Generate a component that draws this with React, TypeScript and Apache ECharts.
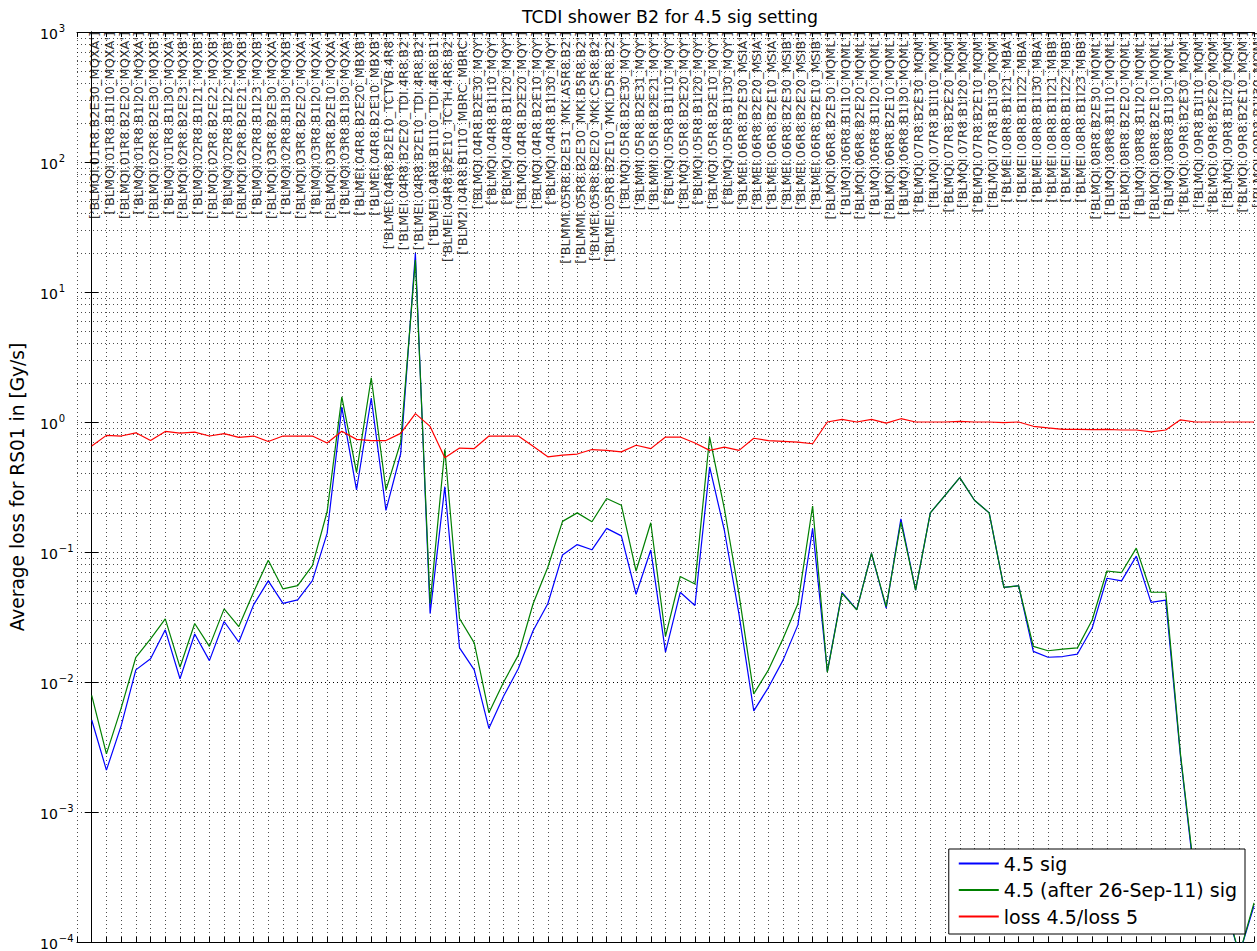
import React, { useEffect, useRef } from "react";
import * as echarts from "echarts";

const categories: string[] = [
  "['BLMQI.01R8.B2E30_MQXA']",
  "['BLMQI.01R8.B1I10_MQXA']",
  "['BLMQI.01R8.B2E20_MQXA']",
  "['BLMQI.01R8.B1I20_MQXA']",
  "['BLMQI.02R8.B2E30_MQXB']",
  "['BLMQI.01R8.B1I30_MQXA']",
  "['BLMQI.02R8.B2E23_MQXB']",
  "['BLMQI.02R8.B1I21_MQXB']",
  "['BLMQI.02R8.B2E22_MQXB']",
  "['BLMQI.02R8.B1I22_MQXB']",
  "['BLMQI.02R8.B2E21_MQXB']",
  "['BLMQI.02R8.B1I23_MQXB']",
  "['BLMQI.03R8.B2E30_MQXA']",
  "['BLMQI.02R8.B1I30_MQXB']",
  "['BLMQI.03R8.B2E20_MQXA']",
  "['BLMQI.03R8.B1I20_MQXA']",
  "['BLMQI.03R8.B2E10_MQXA']",
  "['BLMQI.03R8.B1I30_MQXA']",
  "['BLMEI.04R8.B2E20_MBXB']",
  "['BLMEI.04R8.B2E10_MBXB']",
  "['BLMEI.04R8.B2E10_TCTVB.4R8']",
  "['BLMEI.04R8.B2E20_TDI.4R8.B2']",
  "['BLMEI.04R8.B2E10_TDI.4R8.B2']",
  "['BLMEI.04R8.B1I10_TDI.4R8.B1']",
  "['BLMEI.04R8.B2E10_TCTH.4R8.B2']",
  "['BLM2I.04R8.B1I10_MBRC_MBRC']",
  "['BLMQI.04R8.B2E30_MQY']",
  "['BLMQI.04R8.B1I10_MQY']",
  "['BLMQI.04R8.B1I20_MQY']",
  "['BLMQI.04R8.B2E20_MQY']",
  "['BLMQI.04R8.B2E10_MQY']",
  "['BLMQI.04R8.B1I30_MQY']",
  "['BLMMI.05R8.B2E31_MKI.A5R8.B2']",
  "['BLMMI.05R8.B2E30_MKI.B5R8.B2']",
  "['BLMEI.05R8.B2E20_MKI.C5R8.B2']",
  "['BLMEI.05R8.B2E10_MKI.D5R8.B2']",
  "['BLMQI.05R8.B2E30_MQY']",
  "['BLMMI.05R8.B2E31_MQY']",
  "['BLMMI.05R8.B2E21_MQY']",
  "['BLMQI.05R8.B1I10_MQY']",
  "['BLMQI.05R8.B2E20_MQY']",
  "['BLMQI.05R8.B1I20_MQY']",
  "['BLMQI.05R8.B2E10_MQY']",
  "['BLMQI.05R8.B1I30_MQY']",
  "['BLMEI.06R8.B2E30_MSIA']",
  "['BLMEI.06R8.B2E20_MSIA']",
  "['BLMEI.06R8.B2E10_MSIA']",
  "['BLMEI.06R8.B2E30_MSIB']",
  "['BLMEI.06R8.B2E20_MSIB']",
  "['BLMEI.06R8.B2E10_MSIB']",
  "['BLMQI.06R8.B2E30_MQML']",
  "['BLMQI.06R8.B1I10_MQML']",
  "['BLMQI.06R8.B2E20_MQML']",
  "['BLMQI.06R8.B1I20_MQML']",
  "['BLMQI.06R8.B2E10_MQML']",
  "['BLMQI.06R8.B1I30_MQML']",
  "['BLMQI.07R8.B2E30_MQM']",
  "['BLMQI.07R8.B1I10_MQM']",
  "['BLMQI.07R8.B2E20_MQM']",
  "['BLMQI.07R8.B1I20_MQM']",
  "['BLMQI.07R8.B2E10_MQM']",
  "['BLMQI.07R8.B1I30_MQM']",
  "['BLMEI.08R8.B1I21_MBA']",
  "['BLMEI.08R8.B1I22_MBA']",
  "['BLMEI.08R8.B1I30_MBA']",
  "['BLMEI.08R8.B1I21_MBB']",
  "['BLMEI.08R8.B1I22_MBB']",
  "['BLMEI.08R8.B1I23_MBB']",
  "['BLMQI.08R8.B2E30_MQML']",
  "['BLMQI.08R8.B1I10_MQML']",
  "['BLMQI.08R8.B2E20_MQML']",
  "['BLMQI.08R8.B1I20_MQML']",
  "['BLMQI.08R8.B2E10_MQML']",
  "['BLMQI.08R8.B1I30_MQML']",
  "['BLMQI.09R8.B2E30_MQM']",
  "['BLMQI.09R8.B1I10_MQM']",
  "['BLMQI.09R8.B2E20_MQM']",
  "['BLMQI.09R8.B1I20_MQM']",
  "['BLMQI.09R8.B2E10_MQM']",
  "['BLMQI.09R8.B1I30_MQM']",
];

const sig45: number[] = [
  0.0051, 0.0021, 0.0046, 0.0124, 0.0151, 0.0252, 0.0106, 0.0234, 0.0146, 0.0292,
  0.0203, 0.0392, 0.0599, 0.0402, 0.0428, 0.0603, 0.139, 1.3, 0.3, 1.53,
  0.209, 0.57, 19.9, 0.0336, 0.318, 0.0183, 0.0124, 0.0044, 0.0078, 0.0127,
  0.0248, 0.04, 0.095, 0.114, 0.104, 0.152, 0.133, 0.0473, 0.1035, 0.017,
  0.049, 0.0388, 0.451, 0.147, 0.033, 0.006, 0.0091, 0.0148, 0.0275, 0.152,
  0.012, 0.049, 0.036, 0.0975, 0.037, 0.18, 0.051, 0.2, 0.273, 0.373,
  0.25, 0.2, 0.0535, 0.055, 0.0172, 0.0155, 0.0157, 0.0164, 0.026, 0.0628,
  0.06, 0.093, 0.041, 0.0426, 0.0027, 0.00028, 0.00024, 0.0002, 0.00008, 0.00019,
];

const sigAfter: number[] = [
  0.0079, 0.0028, 0.0063, 0.0155, 0.0215, 0.0306, 0.013, 0.0282, 0.0188, 0.0365,
  0.0267, 0.049, 0.0863, 0.052, 0.0551, 0.0785, 0.204, 1.56, 0.41, 2.19,
  0.3, 0.7, 17.6, 0.04, 0.617, 0.0308, 0.02, 0.0058, 0.01, 0.0161,
  0.04, 0.0764, 0.172, 0.2, 0.171, 0.258, 0.229, 0.0714, 0.168, 0.0224,
  0.0648, 0.0568, 0.766, 0.216, 0.047, 0.0081, 0.0124, 0.0217, 0.04, 0.226,
  0.0119, 0.048, 0.0359, 0.0975, 0.038, 0.17, 0.051, 0.2, 0.273, 0.373,
  0.25, 0.2, 0.0535, 0.055, 0.0188, 0.0174, 0.0179, 0.0183, 0.03, 0.0714,
  0.0695, 0.107, 0.049, 0.049, 0.0028, 0.0003, 0.00025, 0.00021, 0.00008, 0.0002,
];

const ratio: number[] = [
  0.653, 0.789, 0.78, 0.826, 0.721, 0.846, 0.82, 0.836, 0.78, 0.814,
  0.762, 0.78, 0.708, 0.78, 0.78, 0.78, 0.69, 0.85, 0.735, 0.718,
  0.72, 0.818, 1.16, 0.925, 0.53, 0.63, 0.625, 0.78, 0.78, 0.78,
  0.65, 0.54, 0.557, 0.567, 0.614, 0.605, 0.589, 0.662, 0.624, 0.766,
  0.766, 0.69, 0.605, 0.64, 0.605, 0.75, 0.72, 0.71, 0.7, 0.68,
  1.0, 1.047, 1.0, 1.047, 0.98, 1.06, 1.0, 1.0, 1.0, 1.01,
  1.0, 1.0, 0.99, 1.0, 0.927, 0.9, 0.877, 0.877, 0.875, 0.877,
  0.868, 0.868, 0.84, 0.868, 1.04, 1.0, 1.0, 1.0, 1.0, 1.0,
];

const seriesNames = ["4.5 sig", "4.5 (after 26-Sep-11) sig", "loss 4.5/loss 5"];
const titleText = "TCDI shower B2 for 4.5 sig setting";
const yAxisTitle = "Average loss for RS01 in [Gy/s]";
const yMin = 1e-4;
const yMax = 1e3;
const minorExponents = [-4, -3, -2, -1, 0, 1, 2];
const minorMultipliers = [2, 3, 4, 5, 6, 7, 8, 9];

const FONT = "DejaVu Sans";
const dotted = { type: [1, 3] as number[], color: "#000", width: 0.7 };

function buildOption() {
  const minorVals: number[] = [];
  minorExponents.forEach((e) =>
    minorMultipliers.forEach((m) => minorVals.push(m * Math.pow(10, e)))
  );
  const expLabel = (v: number) => {
    const e = Math.round(Math.log10(v));
    return "{b|10}{s|" + (e < 0 ? "\u2212" + -e : String(e)) + "}";
  };
  const yRich = {
    b: { fontSize: 14, fontFamily: FONT, color: "#000", verticalAlign: "bottom", lineHeight: 18 },
    s: { fontSize: 10, fontFamily: FONT, color: "#000", verticalAlign: "top", lineHeight: 18, padding: [0, 0, 6, 1] },
  };
  const nCat = categories.length;
  const xCommon = {
    type: "value",
    min: -1,
    max: nCat - 1,
    interval: 1,
    axisLine: { show: true, lineStyle: { color: "#000", width: 1 } },
    axisTick: { show: true, inside: true, length: 5, lineStyle: { color: "#000" } },
    axisLabel: { show: false },
  };
  const yCommon = {
    type: "log",
    min: yMin,
    max: yMax,
    logBase: 10,
    axisLine: { show: true, lineStyle: { color: "#000", width: 1 } },
    axisTick: { show: true, inside: true, length: 7, lineStyle: { color: "#000" } },
  };
  return {
    animation: false,
    backgroundColor: "#fff",
    textStyle: { fontFamily: FONT },
    title: {
      text: titleText,
      left: 665,
      top: 3,
      textAlign: "center",
      textStyle: { fontFamily: FONT, fontSize: 17.4, fontWeight: "normal", color: "#000" },
    },
    legend: {
      data: seriesNames,
      orient: "vertical",
      right: 12,
      bottom: 17,
      z: 50,
      backgroundColor: "#fff",
      borderColor: "#000",
      borderWidth: 1,
      borderRadius: 0,
      padding: [4, 8, 7, 10],
      itemGap: 5.5,
      itemWidth: 40,
      itemHeight: 2,
      icon: "rect",
      textStyle: { fontFamily: FONT, fontSize: 19, color: "#000", lineHeight: 21 },
    },
    grid: { left: 76, right: 3, top: 32, bottom: 6, containLabel: false },
    xAxis: [
      { ...xCommon, position: "bottom", splitLine: { show: true, lineStyle: dotted } },
      { ...xCommon, position: "top", splitLine: { show: false } },
    ],
    yAxis: [
      {
        ...yCommon,
        position: "left",
        name: yAxisTitle,
        nameLocation: "middle",
        nameGap: 50,
        nameTextStyle: { fontFamily: FONT, fontSize: 18.6, color: "#000" },
        splitLine: { show: true, lineStyle: dotted },
        axisLabel: {
          show: true,
          formatter: expLabel,
          align: "left",
          margin: 37,
          rich: yRich,
        },
      },
      {
        ...yCommon,
        position: "right",
        splitLine: { show: false },
        axisLabel: { show: false },
      },
    ],
    series: [
      {
        name: seriesNames[0],
        type: "line",
        xAxisIndex: 0,
        yAxisIndex: 0,
        data: sig45.map((v, i) => [i, v]),
        symbol: "none",
        color: "#0000ff",
        lineStyle: { width: 1.2, color: "#0000ff" },
        z: 3,
        markLine: {
          silent: true,
          symbol: "none",
          label: { show: false },
          lineStyle: dotted,
          data: minorVals.map((v) => ({ yAxis: v })),
          z: 1,
        },
      },
      {
        name: seriesNames[1],
        type: "line",
        xAxisIndex: 0,
        yAxisIndex: 0,
        data: sigAfter.map((v, i) => [i, v]),
        symbol: "none",
        color: "#008000",
        lineStyle: { width: 1.2, color: "#008000" },
        z: 4,
      },
      {
        name: seriesNames[2],
        type: "line",
        xAxisIndex: 0,
        yAxisIndex: 0,
        data: ratio.map((v, i) => [i, v]),
        symbol: "none",
        color: "#ff0000",
        lineStyle: { width: 1.2, color: "#ff0000" },
        z: 5,
      },
      {
        name: "labels",
        type: "scatter",
        xAxisIndex: 0,
        yAxisIndex: 0,
        data: categories.map((_, i) => [i, yMax]),
        symbolSize: 0,
        silent: true,
        clip: false,
        z: 6,
        label: {
          show: true,
          position: "inside",
          formatter: (p: any) => categories[p.dataIndex],
          rotate: 90,
          align: "right",
          verticalAlign: "middle",
          offset: [0, 3],
          fontFamily: FONT,
          fontSize: 12.9,
          color: "#000",
        },
      },
    ],
  };
}

export default function App() {
  const ref = useRef<HTMLDivElement>(null);
  useEffect(() => {
    if (!ref.current) return;
    const chart = echarts.init(ref.current, null, { renderer: "svg" });
    chart.setOption(buildOption() as any);
    return () => chart.dispose();
  }, []);
  return (
    <div
      ref={ref}
      style={{ position: "fixed", left: 0, top: 0, width: 1257, height: 951, background: "#fff" }}
    />
  );
}
